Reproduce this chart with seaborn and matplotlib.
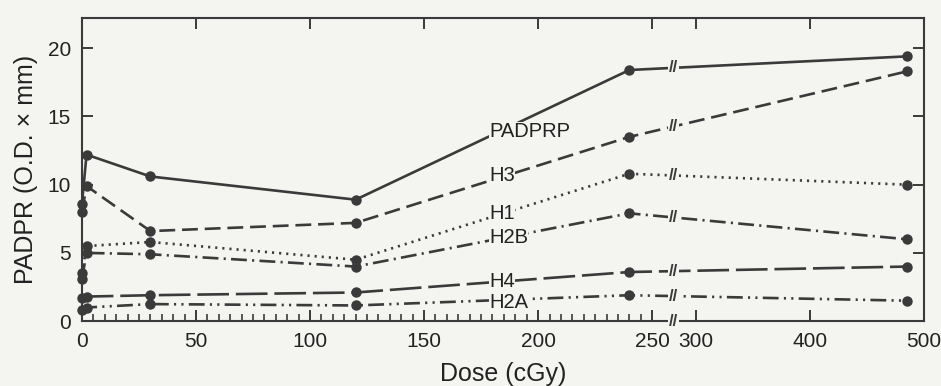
import numpy as np
import pandas as pd
import matplotlib
matplotlib.use('Agg')
import matplotlib.pyplot as plt
import matplotlib.transforms as mtransforms
import seaborn as sns

# dose points (cGy) and PADPR values
dose = [0, 2, 30, 120, 240, 485]
padprp = [8.6, 12.2, 10.6, 8.9, 18.4, 19.4]
h3 = [8.0, 9.9, 6.6, 7.2, 13.5, 18.3]
h1 = [3.5, 5.5, 5.8, 4.5, 10.8, 10.0]
h2b = [3.1, 5.0, 4.9, 4.0, 7.9, 6.0]
h4 = [1.7, 1.8, 1.9, 2.1, 3.6, 4.0]
h2a = [0.8, 1.0, 1.25, 1.15, 1.9, 1.5]

series_names = ['PADPRP', 'H3', 'H1', 'H2B', 'H4', 'H2A']
x_ticks = [0, 50, 100, 150, 200, 250, 300, 400, 500]
y_ticks = [0, 5, 10, 15, 20]

df = pd.DataFrame({'dose': dose * 6,
                   'value': padprp + h3 + h1 + h2b + h4 + h2a,
                   'series': np.repeat(series_names, len(dose))})

bg = '#f4f4f1'
ink = '#3a3a3a'
txt = '#222222'

sns.set_style('ticks')
plt.rcParams['font.family'] = ['Liberation Sans', 'DejaVu Sans']

# broken axis: 0-259 at full scale, 281-500 at half scale
xp = [-100, 259, 281, 700]
fp = [-100, 259, 259.5, 469.5]


def fwd(x):
    return np.interp(x, xp, fp)


def inv(p):
    return np.interp(p, fp, xp)


fig = plt.figure(figsize=(9.41, 3.86), dpi=100, facecolor=bg)
ax = fig.add_axes([0.0871, 0.168, 0.895, 0.785])
ax.set_facecolor(bg)
ax.set_xscale('function', functions=(fwd, inv))

dashes = {
    'PADPRP': '',
    'H3': (6, 2.6),
    'H1': (0.8, 1.9),
    'H2B': (6, 2, 0.8, 2),
    'H4': (12, 2.6),
    'H2A': (6, 2, 0.8, 2, 0.8, 2),
}
sns.lineplot(data=df, x='dose', y='value', hue='series', style='series',
             palette=[ink] * 6, dashes=dashes, markers=['o'] * 6,
             markersize=7.5, markeredgewidth=0, linewidth=1.9,
             legend=False, clip_on=False, ax=ax)

ax.set_xlim(0, 500)
ax.set_ylim(0, 22.2)
ax.set_xticks(x_ticks)
ax.set_xticks([m for m in range(0, 250, 5) if m % 50], minor=True)
ax.set_yticks(y_ticks)
ax.tick_params(axis='both', which='major', direction='in', length=8, width=1.4,
               labelsize=15, colors=ink, top=True, right=True)
ax.tick_params(axis='x', which='minor', direction='in', length=5, width=1.2,
               color=ink, top=False)
for t in ax.get_xticklabels() + ax.get_yticklabels():
    t.set_color(txt)
ax.tick_params(axis='x', pad=8)
ax.tick_params(axis='y', pad=8)
for s in ax.spines.values():
    s.set_linewidth(1.5)
    s.set_color(ink)

ax.set_xlabel('Dose (cGy)', fontsize=18, color=txt, labelpad=8)
ax.set_ylabel('PADPR (O.D. \u00d7 mm)', fontsize=18, color=txt, labelpad=7)

# break marks on lines and on the axis
brk = inv(259.25)
for name in series_names:
    sub = df[df['series'] == name]
    yb = np.interp(fwd(brk), fwd(sub['dose'].values), sub['value'].values)
    ax.text(brk, yb, '//', ha='center', va='center', fontsize=12,
            fontweight='bold', color=ink,
            bbox=dict(facecolor=bg, edgecolor='none', pad=0.5))
trans = mtransforms.blended_transform_factory(ax.transData, ax.transAxes)
ax.text(brk, 0, '//', transform=trans, ha='center', va='center', fontsize=12,
        fontweight='bold', color=ink, clip_on=False,
        bbox=dict(facecolor=bg, edgecolor='none', pad=0.5))

# series labels
label_pos = {'PADPRP': 13.9, 'H3': 10.7, 'H1': 7.9, 'H2B': 6.1, 'H4': 2.9, 'H2A': 1.4}
for name, yl in label_pos.items():
    ax.text(178.5, yl, name, ha='left', va='center', fontsize=14.5, color=txt,
            bbox=dict(facecolor=bg, edgecolor='none', pad=0.3))

plt.savefig('out.png', dpi=100, facecolor=bg)
